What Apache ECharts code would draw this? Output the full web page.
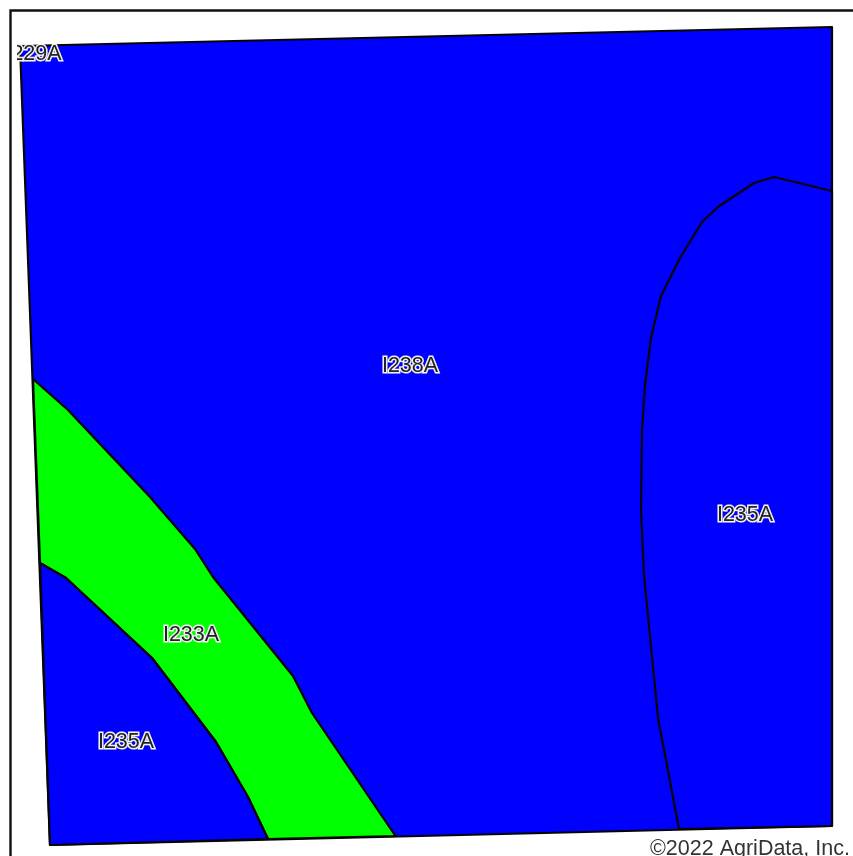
<!DOCTYPE html>
<html><head><meta charset="utf-8">
<style>html,body{margin:0;padding:0;background:#fff}#c{width:853px;height:856px}</style>
<script src="https://cdn.jsdelivr.net/npm/echarts@6/dist/echarts.min.js"></script>
</head><body><div id="c"></div>
<script>
const parcel = [[20,46],[832,27],[832,826],[50,845]];
const zoneGreen = [[33,379],[68,410],[150,497],[195,549],[213,577],[293,676],[312,713],[395.5,836],[268,839],[248,797],[216,742],[152,658],[66,578],[40,563]];
const zoneLowerLeft = [[40,563],[66,578],[152,658],[216,742],[248,797],[268,839],[50,845]];
const zoneRight = [[832,191],[774,177],[754,183],[718,207],[702,222],[680,258],[661,296],[651,338],[645,385],[642,430],[641,510],[644,575],[658,718],[679,829],[832,826]];
const labels = [["I229A",33.5,54],["I238A",410,366],["I235A",745,515],["I233A",191,635],["I235A",126,742]];
const BLUE="#0000ff", GREEN="#00ff00";
const polys=[{p:parcel,c:BLUE},{p:zoneRight,c:BLUE},{p:zoneGreen,c:GREEN},{p:zoneLowerLeft,c:BLUE}];
const chart=echarts.init(document.getElementById('c'),null,{renderer:'canvas'});
const axis={min:0,show:false};
chart.setOption({
  animation:false,
  grid:{left:0,right:0,top:0,bottom:0},
  xAxis:Object.assign({type:'value',max:853},axis),
  yAxis:Object.assign({type:'value',max:856,inverse:true},axis),
  graphic:[
    {type:'polyline',silent:true,z:0,shape:{points:[[10.5,856],[10.5,10.5],[853,10.5]]},style:{stroke:'#111',lineWidth:2.4,fill:null}},
    {type:'text',silent:true,z:20,left:650,top:838,style:{text:'©2022 AgriData, Inc.',font:'21.5px "Liberation Sans"',fill:'#333'}}
  ],
  series:[
    {type:'custom',coordinateSystem:'cartesian2d',clip:false,encode:{x:0,y:1},z:2,
     data:polys.map((_,i)=>[i,i]),
     renderItem(params,api){
       const o=polys[api.value(0)];
       return {type:'polygon',shape:{points:o.p.map(q=>api.coord(q))},style:{fill:o.c,stroke:'#050505',lineWidth:2.2,lineJoin:'round'}};
     }},
    {type:'custom',coordinateSystem:'cartesian2d',clip:false,encode:{x:1,y:2},z:5,
     data:labels,
     renderItem(params,api){
       const c=api.coord([api.value(1),api.value(2)]);
       const isClipped=params.dataIndex===0;
       const el={type:'text',x:c[0],y:c[1],style:{text:labels[params.dataIndex][0],font:'21.5px "Liberation Sans"',fill:'#222',stroke:'#f2f2f2',lineWidth:3,align:'center',verticalAlign:'middle'}};
       if(isClipped){el.clipPath={type:'rect',shape:{x:17-c[0],y:-30,width:200,height:60}};}
       return el;
     }}
  ]
});
</script></body></html>
